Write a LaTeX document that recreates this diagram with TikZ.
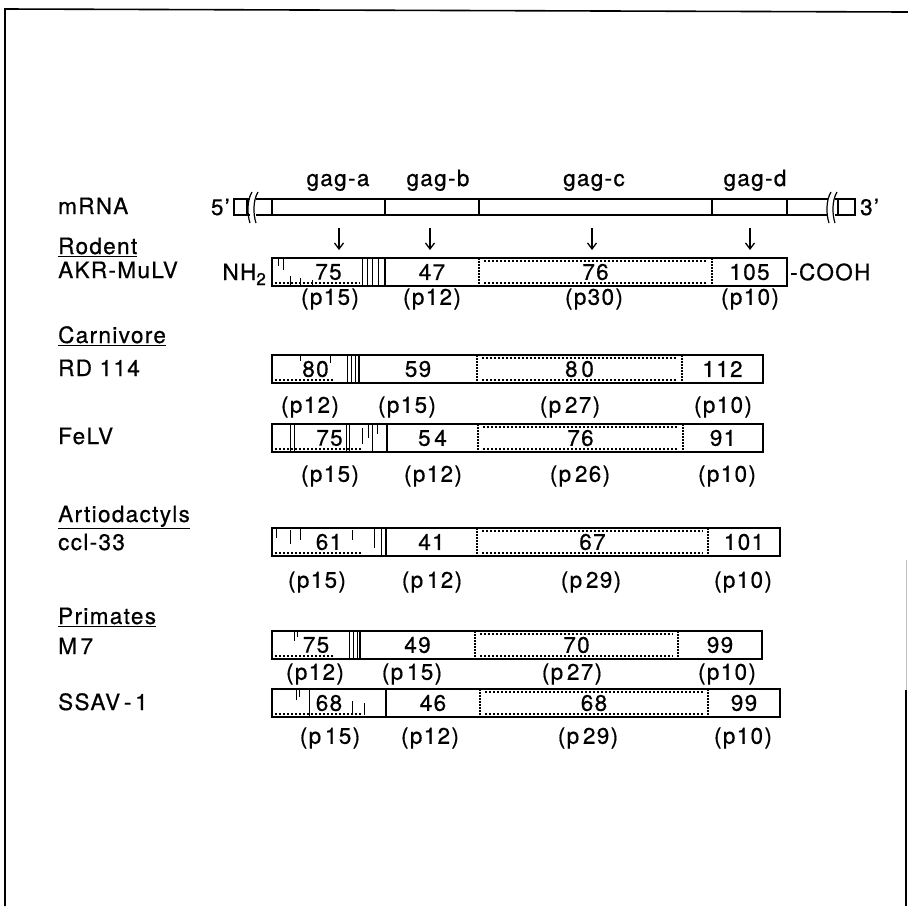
\documentclass[tikz,border=0pt]{standalone}
\usepackage{fontspec}
\setmainfont{TeX Gyre Heros}[LetterSpace=6,FakeBold=0.6]
\usetikzlibrary{arrows.meta,calc}
\newcommand\gseg[5]{\node[seg, minimum width={(#3-#2)*1pt}] (#1) at ({(#2+#3)/2},#4) {#5};}
\newcommand\gframe[1]{%
  \draw[barline] (#1a.north west) rectangle (#1d.south east);
  \draw[barline] (#1b.north west) -- (#1b.south west);
  \draw[dotdiv] (#1c.north west) -- (#1c.south west);
  \draw[dotdiv] (#1d.north west) -- (#1d.south west);
  \draw[dotin] ($(#1c.north west)+(5,3)$) -- ($(#1c.north east)+(-5,3)$);
  \draw[dotin] ($(#1c.south west)+(5,-3)$) -- ($(#1c.south east)+(-5,-3)$);
  \draw[dotin] ($(#1a.south west)+(3,-3)$) -- ($(#1a.south east)+(-25,-3)$);}
\newcommand\plab[4]{\node[txt] (#1) at (#2,#3) {#4};}
\begin{document}
\begin{tikzpicture}[x=1pt,y=-1pt,
  txt/.style={font=\fontsize{22.5}{26}\selectfont, inner sep=0pt},
  lab/.style={txt, anchor=base west},
  seg/.style={txt, minimum height=28pt, outer sep=0pt},
  mseg/.style={draw, line width=1.4pt, minimum height=16pt, inner sep=0pt, outer sep=0pt},
  barline/.style={line width=1.5pt},
  dotdiv/.style={line width=1.4pt, dash pattern=on 1.5pt off 1.5pt},
  dotin/.style={line width=1.1pt, dash pattern=on 1.5pt off 2.5pt},
  tex/.style={line width=1pt},
  arr/.style={line width=1.3pt, -{Straight Barb[length=6pt,width=9pt]}}]
\useasboundingbox (0,0) rectangle (908,906);
% frame
\draw[line width=1.6pt] (5,906) -- (5,9) -- (908,12);
\draw[line width=1pt, black!25] (906,560) -- (906,690);
\draw[line width=1.6pt] (906,690) -- (906,906);

% left labels
\node[lab] (lmrna) at (58,214) {mRNA};
\node[lab] (lrod) at (58,254) {\underline{Rodent}};
\node[lab] (lakr) at (58,278) {AKR-MuLV};
\node[lab] (lcar) at (58,343) {\underline{Carnivore}};
\node[lab] (lrd) at (58,376) {RD 114};
\node[lab] (lfe) at (58,444) {FeLV};
\node[lab] (lart) at (58,522) {\underline{Artiodactyls}};
\node[lab] (lcc) at (58,550) {ccl-33};
\node[lab] (lpri) at (58,624) {\underline{Primates}};
\node[lab] (lm7) at (58,654) {M\,7};
\node[lab] (lss) at (58,710) {SSAV\,-\,1};

% mRNA
\node[mseg, minimum width=113pt] (ga) at (328.5,207) {};
\node[mseg, minimum width=94pt] (gb) at (432,207) {};
\node[mseg, minimum width=233pt] (gc) at (595.5,207) {};
\node[mseg, minimum width=75pt] (gd) at (749.5,207) {};
\node[mseg, minimum width=13pt] (sq5) at (240.5,207) {};
\node[mseg, minimum width=17pt] (sq3) at (846.5,207) {};
\node[txt, anchor=east] (p5) at (230,207) {5'};
\node[txt, anchor=west] (p3) at (860,207) {3'};
\draw[line width=1.4pt] (sq5.north east) -- ++(3,0) (sq5.south east) -- ++(3,0);
\draw[line width=1.4pt] (256,199) -- (ga.north west) (256,215) -- (ga.south west);
\draw[line width=1.4pt] (gd.north east) -- (828,199) (gd.south east) -- (828,215);
\draw[line width=1.4pt] (sq3.north west) -- ++(-3,0) (sq3.south west) -- ++(-3,0);
\draw[line width=1.2pt] (252,192) .. controls (247,200) and (247,214) .. (250,223);
\draw[line width=1.2pt] (258,192) .. controls (253,200) and (253,214) .. (256,223);
\draw[line width=1.2pt] (831,192) .. controls (826,200) and (826,214) .. (829,223);
\draw[line width=1.2pt] (837,192) .. controls (832,200) and (832,214) .. (835,223);
\node[txt, anchor=base] (tga) at (338,186) {gag-a};
\node[txt, anchor=base] (tgb) at (438,186) {gag-b};
\node[txt, anchor=base] (tgc) at (594,186) {gag-c};
\node[txt, anchor=base] (tgd) at (755,186) {gag-d};

% AKR-MuLV
\gseg{aka}{272}{385}{272}{75}
\gseg{akb}{385}{479}{272}{47}
\gseg{akc}{479}{712}{272}{76}
\gseg{akd}{712}{787}{272}{105}
\gframe{ak}
\node[txt, anchor=base east] (nh) at (266,280) {NH\raisebox{-5pt}{\fontsize{17}{17}\selectfont 2}};
\node[txt, anchor=west] (cooh) at ([xshift=3pt]akd.east) {-COOH};
\begin{scope}[shift={(0,272)}]
\foreach \x in {362,367,372,378} \draw[tex] (\x,-14) -- (\x,14);
\draw[tex] (278,-14) -- (278,-6) (283,-14) -- (283,-2) (290,4) -- (290,14) (300,6) -- (300,14) (312,8) -- (312,14);
\end{scope}
\plab{akp1}{330}{299}{(p15)}
\plab{akp2}{432}{299}{(p12)}
\plab{akp3}{594}{299}{(p30)}
\plab{akp4}{750}{299}{(p10)}

% arrows
\coordinate (xa) at (339,0);
\coordinate (xb) at (430,0);
\coordinate (xc) at (592,0);
\coordinate (xd) at (750,0);
\draw[arr, shorten <=13pt, shorten >=8pt] (ga.south -| xa) -- (aka.north -| xa);
\draw[arr, shorten <=13pt, shorten >=8pt] (gb.south -| xb) -- (akb.north -| xb);
\draw[arr, shorten <=13pt, shorten >=8pt] (gc.south -| xc) -- (akc.north -| xc);
\draw[arr, shorten <=13pt, shorten >=8pt] (gd.south -| xd) -- (akd.north -| xd);

% RD 114
\gseg{rda}{272}{359}{369}{80}
\gseg{rdb}{359}{477}{369}{59}
\gseg{rdc}{477}{682}{369}{8\,0}
\gseg{rdd}{682}{763}{369}{112}
\gframe{rd}
\begin{scope}[shift={(0,369)}]
\foreach \x in {347,351,355} \draw[tex] (\x,-14) -- (\x,14);
\draw[tex] (300,-14) -- (300,-8) (330,-14) -- (330,-6);
\end{scope}
\plab{rdp1}{310}{407}{(p12)}
\plab{rdp2}{407}{407}{(p15)}
\plab{rdp3}{570}{407}{(p\,27)}
\plab{rdp4}{723}{407}{(p10)}

% FeLV
\gseg{fea}{272}{387}{438}{75}
\gseg{feb}{387}{478}{438}{5\,4}
\gseg{fec}{478}{683}{438}{76}
\gseg{fed}{683}{763}{438}{91}
\gframe{fe}
\begin{scope}[shift={(0,438)}]
\foreach \x in {290,294,346,349,372} \draw[tex] (\x,-14) -- (\x,14);
\draw[tex] (362,-10) -- (362,6) (368,-14) -- (368,0) (377,-14) -- (377,-4);
\end{scope}
\plab{fep1}{330}{476}{(p15)}
\plab{fep2}{433}{476}{(p12)}
\plab{fep3}{580}{476}{(p\,26)}
\plab{fep4}{727}{476}{(p10)}

% ccl-33
\gseg{cca}{272}{386}{542}{61}
\gseg{ccb}{386}{477}{542}{41}
\gseg{ccc}{477}{708}{542}{67}
\gseg{ccd}{708}{780}{542}{101}
\gframe{cc}
\begin{scope}[shift={(0,542)}]
\foreach \x in {381} \draw[tex] (\x,-14) -- (\x,14);
\draw[tex] (276,-14) -- (276,-4) (290,-12) -- (290,2) (300,-14) -- (300,-2) (352,-12) -- (352,-2) (374,-14) -- (374,6);
\end{scope}
\plab{ccp1}{317}{582}{(p15)}
\plab{ccp2}{432}{582}{(p\,12)}
\plab{ccp3}{591}{582}{(p\,29)}
\plab{ccp4}{743}{582}{(p10)}

% M7
\gseg{msa}{272}{360}{645}{75}
\gseg{msb}{360}{475}{645}{49}
\gseg{msc}{475}{678}{645}{70}
\gseg{msd}{678}{762}{645}{99}
\gframe{ms}
\begin{scope}[shift={(0,645)}]
\foreach \x in {349,353,357} \draw[tex] (\x,-14) -- (\x,14);
\draw[tex] (294,-14) -- (294,-4) (297,-14) -- (297,-8);
\end{scope}
\plab{msp1}{315}{674}{(p12)}
\plab{msp2}{412}{674}{(p\,15)}
\plab{msp3}{572}{674}{(p\,27)}
\plab{msp4}{727}{674}{(p10)}

% SSAV-1
\gseg{ssa}{272}{386}{703}{68}
\gseg{ssb}{386}{480}{703}{46}
\gseg{ssc}{480}{708}{703}{68}
\gseg{ssd}{708}{780}{703}{99}
\gframe{ss}
\begin{scope}[shift={(0,703)}]
\foreach \x in {309} \draw[tex] (\x,-14) -- (\x,14);
\draw[tex] (296,-14) -- (296,-3) (299,-14) -- (299,-6) (352,-2) -- (352,10) (364,0) -- (364,12);
\end{scope}
\plab{ssp1}{330}{738}{(p\,15)}
\plab{ssp2}{430}{738}{(p12)}
\plab{ssp3}{588}{738}{(p\,29)}
\plab{ssp4}{743}{738}{(p10)}
\end{tikzpicture}
\end{document}
